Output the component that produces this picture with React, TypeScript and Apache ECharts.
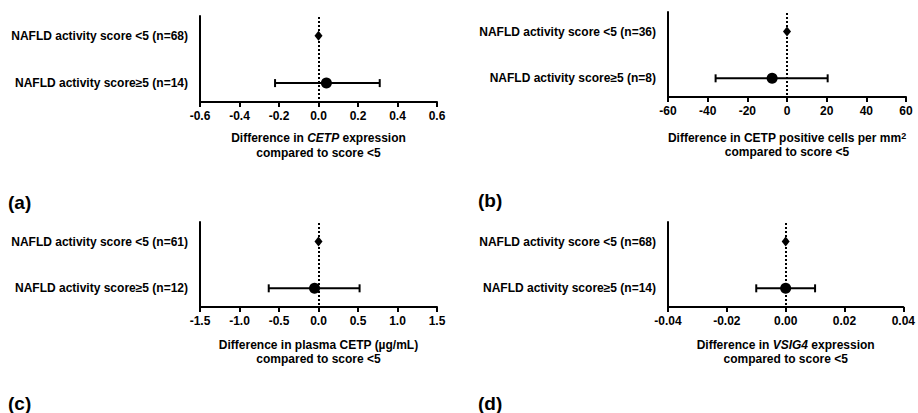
import React, { useEffect, useRef } from "react";
import * as echarts from "echarts";

// ---- data ----
const labelsA = ["NAFLD activity score <5 (n=68)", "NAFLD activity score≥5 (n=14)"];
const estA = [0, 0.04];
const lowA = [null, -0.22];
const highA = [null, 0.31];

const labelsB = ["NAFLD activity score <5 (n=36)", "NAFLD activity score≥5 (n=8)"];
const estB = [0, -7.5];
const lowB = [null, -36];
const highB = [null, 20.5];

const labelsC = ["NAFLD activity score <5 (n=61)", "NAFLD activity score≥5 (n=12)"];
const estC = [0, -0.05];
const lowC = [null, -0.63];
const highC = [null, 0.52];

const labelsD = ["NAFLD activity score <5 (n=68)", "NAFLD activity score≥5 (n=14)"];
const estD = [0, 0];
const lowD = [null, -0.01];
const highD = [null, 0.01];

const axisA = { min: -0.6, max: 0.6, interval: 0.2, digits: 1 };
const axisB = { min: -60, max: 60, interval: 20, digits: 0 };
const axisC = { min: -1.5, max: 1.5, interval: 0.5, digits: 1 };
const axisD = { min: -0.04, max: 0.04, interval: 0.02, digits: 2 };

const titleA = "Difference in {i|CETP} expression\ncompared to score <5";
const titleB = "Difference in CETP positive cells per mm{sup|2}\ncompared to score <5";
const titleC = "Difference in plasma CETP (µg/mL)\ncompared to score <5";
const titleD = "Difference in {i|VSIG4} expression\ncompared to score <5";

const panelLetters = ["(a)", "(b)", "(c)", "(d)"];

const FONT = "'Liberation Sans', Arial, Helvetica, sans-serif";

export default function App() {
  const ref = useRef<HTMLDivElement>(null);

  useEffect(() => {
    if (!ref.current) return;
    const chart = echarts.init(ref.current, null, { renderer: "svg" });

    const panels = [
      { labels: labelsA, est: estA, low: lowA, high: highA, ax: axisA, title: titleA, grid: { left: 200, top: 16, width: 237, height: 86 }, gap: 28, lh: 15 },
      { labels: labelsB, est: estB, low: lowB, high: highB, ax: axisB, title: titleB, grid: { left: 668, top: 12, width: 238, height: 85 }, gap: 34, lh: 14 },
      { labels: labelsC, est: estC, low: lowC, high: highC, ax: axisC, title: titleC, grid: { left: 200, top: 222, width: 237, height: 85 }, gap: 31, lh: 14 },
      { labels: labelsD, est: estD, low: lowD, high: highD, ax: axisD, title: titleD, grid: { left: 668, top: 222, width: 238, height: 85 }, gap: 31, lh: 14 },
    ];

    const grids: any[] = [];
    const xAxes: any[] = [];
    const yAxes: any[] = [];
    const series: any[] = [];

    panels.forEach((p, k) => {
      grids.push({ ...p.grid, containLabel: false });
      const digits = p.ax.digits;
      xAxes.push({
        type: "value",
        gridIndex: k,
        min: p.ax.min,
        max: p.ax.max,
        interval: p.ax.interval,
        axisLine: { show: true, onZero: false, lineStyle: { color: "#000", width: 2 } },
        axisTick: { show: true, length: 5, lineStyle: { color: "#000", width: 2 } },
        splitLine: { show: false },
        axisLabel: {
          color: "#000",
          fontFamily: FONT,
          fontWeight: "bold",
          fontSize: 12,
          margin: 8,
          formatter: (v: number) => v.toFixed(digits),
        },
        name: p.title,
        nameLocation: "middle",
        nameGap: p.gap,
        nameTextStyle: {
          color: "#000",
          fontFamily: FONT,
          fontWeight: "bold",
          fontSize: 12,
          lineHeight: p.lh,
          rich: {
            i: { fontStyle: "italic", fontWeight: "bold", fontSize: 12, fontFamily: FONT, color: "#000", lineHeight: p.lh },
            sup: { fontWeight: "bold", fontSize: 9, fontFamily: FONT, color: "#000", verticalAlign: "top", lineHeight: p.lh, padding: [0, 0, 8, 0] },
          },
        },
      });
      const labs = p.labels;
      yAxes.push({
        type: "value",
        gridIndex: k,
        inverse: true,
        min: 0.58,
        max: 2.4,
        axisLine: { show: true, onZero: false, lineStyle: { color: "#000", width: 2 } },
        axisTick: { show: false },
        splitLine: { show: false },
        axisLabel: {
          customValues: [1, 2],
          color: "#000",
          fontFamily: FONT,
          fontWeight: "bold",
          fontSize: 12,
          margin: 12,
          formatter: (v: number) => labs[Math.round(v) - 1] ?? "",
        },
      });

      // dotted zero reference line, drawn as a column of small dots
      series.push({
        type: "custom",
        xAxisIndex: k,
        yAxisIndex: k,
        silent: true,
        data: [[0]],
        renderItem: (params: any, api: any) => {
          const cs = params.coordSys;
          const x = Math.round(api.coord([api.value(0), 1])[0]);
          const step = 4;
          const y0 = Math.round(cs.y) + 1;
          const n = Math.floor((cs.height - 2) / step);
          const children: any[] = [];
          for (let j = 0; j <= n; j++) {
            children.push({
              type: "rect",
              shape: { x: x - 1, y: y0 + j * step, width: 2, height: 2 },
              style: { fill: "#000" },
            });
          }
          return { type: "group", children };
        },
        z: 2,
      });

      const barData = p.low
        .map((lo, i) => (lo === null ? null : [lo, p.high[i], i + 1]))
        .filter((d) => d !== null);

      series.push({
        type: "custom",
        xAxisIndex: k,
        yAxisIndex: k,
        silent: true,
        data: barData,
        renderItem: (params: any, api: any) => {
          const a = api.coord([api.value(0), api.value(2)]);
          const b = api.coord([api.value(1), api.value(2)]);
          const cap = 4;
          const st = { stroke: "#000", lineWidth: 2 };
          return {
            type: "group",
            children: [
              { type: "line", shape: { x1: a[0], y1: a[1], x2: b[0], y2: b[1] }, style: st },
              { type: "line", shape: { x1: a[0], y1: a[1] - cap, x2: a[0], y2: a[1] + cap }, style: st },
              { type: "line", shape: { x1: b[0], y1: b[1] - cap, x2: b[0], y2: b[1] + cap }, style: st },
            ],
          };
        },
        z: 3,
      });

      series.push({
        type: "scatter",
        xAxisIndex: k,
        yAxisIndex: k,
        silent: true,
        data: p.est.map((e, i) => ({
          value: [e, i + 1],
          symbol: i === 0 ? "diamond" : "circle",
          symbolSize: i === 0 ? [8, 10] : 11,
        })),
        itemStyle: { color: "#000", opacity: 1 },
        z: 4,
      });
    });

    const letterPos = [
      { x: 8, y: 202 },
      { x: 478, y: 200 },
      { x: 8, y: 403 },
      { x: 478, y: 403 },
    ];
    const graphic = panelLetters.map((t, i) => ({
      type: "text",
      x: letterPos[i].x,
      y: letterPos[i].y,
      style: {
        text: t,
        font: `bold 19px ${FONT}`,
        fill: "#000",
        verticalAlign: "middle",
      },
    }));

    chart.setOption({
      animation: false,
      backgroundColor: "#fff",
      grid: grids,
      xAxis: xAxes,
      yAxis: yAxes,
      series,
      graphic,
    });

    return () => chart.dispose();
  }, []);

  return (
    <div
      ref={ref}
      style={{ position: "fixed", left: 0, top: 0, width: 918, height: 413 }}
    />
  );
}
